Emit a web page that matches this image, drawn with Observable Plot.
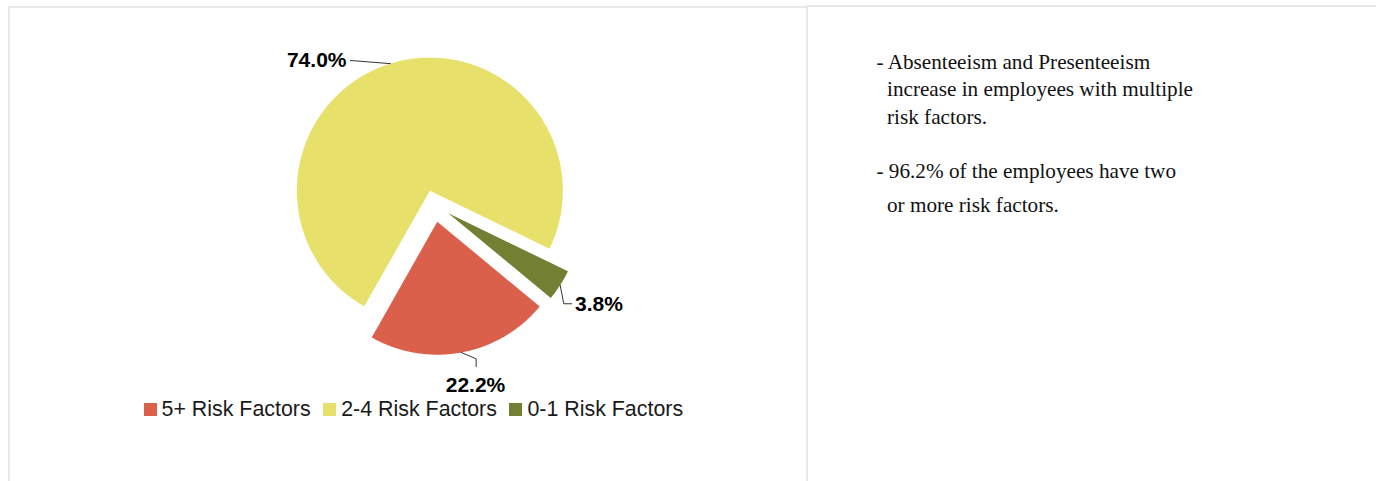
<!DOCTYPE html>
<html>
<head>
<meta charset="utf-8">
<script src="https://cdn.jsdelivr.net/npm/d3@7"></script>
<script src="https://cdn.jsdelivr.net/npm/@observablehq/plot@0.6"></script>
<style>
  html, body { margin: 0; padding: 0; background: #fff; width: 1376px; height: 481px; overflow: hidden; position: relative; }
  #leftBox { position: absolute; left: 8px; top: 6px; width: 800px; height: 490px; box-sizing: border-box;
             border-left: 2px solid #e8e8e8; border-top: 2px solid #e8e8e8; border-right: 2px solid #e8e8e8; }
  #rightBox { position: absolute; left: 806px; top: 5px; width: 600px; height: 490px; box-sizing: border-box;
              border-top: 2px solid #e8e8e8; }
  #chart { position: absolute; left: 0; top: 0; }
  #legend { position: absolute; left: 143.5px; top: 397.5px; display: flex; align-items: flex-start;
            font-family: "Liberation Sans", Arial, sans-serif; font-size: 21.4px; line-height: 22px; color: #1a1a1a; white-space: nowrap; }
  #legend .item { display: flex; align-items: flex-start; margin-right: 12.5px; }
  #legend .sw { width: 13px; height: 13px; margin-top: 5px; margin-right: 5px; }
  .note { position: absolute; font-family: "Liberation Serif", "Times New Roman", serif; font-size: 21.2px; line-height: 21px;
          color: #111; white-space: pre; }
</style>
</head>
<body>
<div id="leftBox"></div>
<div id="rightBox"></div>
<div id="chart"></div>
<div id="legend"></div>
<div id="notes"></div>
<script>
// ---------- data ----------
const categories = ["5+ Risk Factors", "2-4 Risk Factors", "0-1 Risk Factors"];
const shares = [22.2, 74.0, 3.8];
const valueLabels = ["22.2%", "74.0%", "3.8%"];
const palette = ["#DB604B", "#E7E06B", "#737F33"];
const noteLines = [
  "- Absenteeism and Presenteeism",
  "increase in employees with multiple",
  "risk factors.",
  "- 96.2% of the employees have two",
  "or more risk factors."
];

// ---------- layout ----------
const W = 808, H = 440;
const cx = 433.5, cy = 203.5, R = 133;      // pie centre & radius (px)
const firstSliceDeg = 129.6;                  // angle of first slice, clockwise from 12 o'clock
const explodePx = [18, 14, 17];               // slice explosion (px)
// label anchors in radius units relative to the pie centre
const labelPos = [[0.312, 1.360, "middle"], [-0.658, -1.084, "end"], [1.060, 0.751, "start"]];
const leaderBends = [[[0.317, 1.164], [0.317, 1.222]], [[-0.628, -1.079]], [[0.976, 0.750], [1.034, 0.750]]];
const noteX = [876.5, 887, 887, 876.5, 887];
const noteBaseline = [69.5, 97, 125, 179, 213];

// ---------- geometry via d3.pie ----------
const slices = categories.map((c, i) => ({category: c, share: shares[i], label: valueLabels[i]}));
const a0 = firstSliceDeg * Math.PI / 180;
const arcs = d3.pie().sort(null).value(d => d.share).startAngle(a0).endAngle(a0 + 2 * Math.PI)(slices);

const polys = [], leaders = [], texts = [];
arcs.forEach((a, i) => {
  const c = a.data.category;
  const mid = (a.startAngle + a.endAngle) / 2;
  const e = explodePx[i] / R;
  const ox = e * Math.sin(mid), oy = -e * Math.cos(mid);
  polys.push({category: c, x: ox, y: oy});
  const n = Math.max(2, Math.ceil((a.endAngle - a.startAngle) / (Math.PI / 360)));
  for (let k = 0; k <= n; k++) {
    const t = a.startAngle + (a.endAngle - a.startAngle) * k / n;
    polys.push({category: c, x: ox + Math.sin(t), y: oy - Math.cos(t)});
  }
  leaders.push({category: c, x: ox + Math.sin(mid), y: oy - Math.cos(mid)});
  leaderBends[i].forEach(([x, y]) => leaders.push({category: c, x, y}));
  texts.push({label: a.data.label, x: labelPos[i][0], y: labelPos[i][1], anchor: labelPos[i][2]});
});

const chart = Plot.plot({
  width: W, height: H, margin: 0,
  x: {domain: [-cx / R, (W - cx) / R], range: [0, W], axis: null},
  y: {domain: [-cy / R, (H - cy) / R], range: [0, H], axis: null},
  color: {domain: categories, range: palette},
  style: {background: "transparent", overflow: "visible"},
  marks: [
    Plot.line(polys, {x: "x", y: "y", z: "category", fill: "category", stroke: "none", curve: "linear-closed"}),
    Plot.line(leaders, {x: "x", y: "y", z: "category", stroke: "#333", strokeWidth: 1}),
    ...["start", "middle", "end"].map(anchor =>
      Plot.text(texts.filter(d => d.anchor === anchor), {
        x: "x", y: "y", text: "label", textAnchor: anchor,
        fontSize: 21, fontWeight: "bold", fontFamily: "Liberation Sans, Arial, sans-serif", fill: "#000"
      }))
  ]
});
document.getElementById("chart").appendChild(chart);

// ---------- legend ----------
const legend = document.getElementById("legend");
categories.forEach((c, i) => {
  const item = document.createElement("div");
  item.className = "item";
  const sw = document.createElement("span");
  sw.className = "sw";
  sw.style.background = palette[i];
  const tx = document.createElement("span");
  tx.textContent = c;
  item.appendChild(sw); item.appendChild(tx);
  legend.appendChild(item);
});

// ---------- notes ----------
const notes = document.getElementById("notes");
noteLines.forEach((t, i) => {
  const d = document.createElement("div");
  d.className = "note";
  d.textContent = t;
  d.style.left = noteX[i] + "px";
  d.style.top = (noteBaseline[i] - 17.6) + "px";
  notes.appendChild(d);
});
</script>
</body>
</html>
